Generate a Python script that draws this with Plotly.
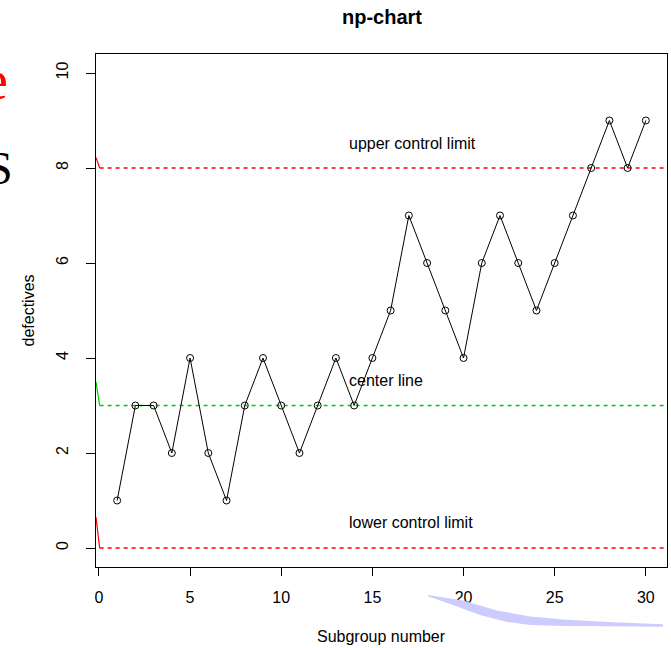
import plotly.graph_objects as go

# ---- data ----
subgroups = list(range(1, 31))
defectives = [1, 3, 3, 2, 4, 2, 1, 3, 4, 3, 2, 3, 4, 3, 4,
              5, 7, 6, 5, 4, 6, 7, 6, 5, 6, 7, 8, 9, 8, 9]
ucl = 8
center = 3
lcl = 0
limit_labels = ["upper control limit", "center line", "lower control limit"]
x_ticks = [0, 5, 10, 15, 20, 25, 30]
y_ticks = [0, 2, 4, 6, 8, 10]

XR = [-0.16, 31.16]
YR = [-0.4, 10.4]
W, H = 671, 648
ML, MR, MT, MB = 96, 4, 54, 81
PW, PH = W - ML - MR, H - MT - MB

def px2paper(px, py):
    return (px - ML) / PW, (H - MB - py) / PH

FONT = "Liberation Sans, Arial, Helvetica, sans-serif"
SERIF = "Liberation Serif, Times New Roman, serif"

fig = go.Figure()

# control limit lines (short solid lead-in + dashed horizontal)
for val, start, col in [(ucl, 8.22, "#FF0000"), (center, 3.5, "#00CD00"), (lcl, 0.65, "#FF0000")]:
    fig.add_trace(go.Scatter(x=[XR[0], 0.04], y=[start, val], mode="lines",
                             line=dict(color=col, width=1.2), showlegend=False, hoverinfo="skip"))
    fig.add_trace(go.Scatter(x=[0.04, XR[1]], y=[val, val], mode="lines",
                             line=dict(color=col, width=1.3, dash="4px,4px"),
                             showlegend=False, hoverinfo="skip"))

fig.add_trace(go.Scatter(x=subgroups, y=defectives, mode="lines+markers",
                         line=dict(color="black", width=1),
                         marker=dict(symbol="circle-open", size=7, color="black",
                                     line=dict(width=1, color="black")),
                         showlegend=False))

annotations = []
for lab, yv in zip(limit_labels, [8.52, 3.53, 0.53]):
    annotations.append(dict(x=13.6, y=yv, xref="x", yref="y", text=lab, showarrow=False,
                            xanchor="left", yanchor="middle",
                            font=dict(family=FONT, size=16, color="black")))

xp, yp = px2paper(0, 637)
annotations.append(dict(x=0.5, y=yp, xref="paper", yref="paper", text="Subgroup number",
                        showarrow=False, xanchor="center", yanchor="middle",
                        font=dict(family=FONT, size=16, color="black")))
xp, yp = px2paper(28, 310.5)
annotations.append(dict(x=xp, y=yp, xref="paper", yref="paper", text="defectives",
                        showarrow=False, xanchor="center", yanchor="middle", textangle=-90,
                        font=dict(family=FONT, size=16, color="black")))
xp, yp = px2paper(381.5, 17)
annotations.append(dict(x=xp, y=yp, xref="paper", yref="paper", text="<b>np-chart</b>",
                        showarrow=False, xanchor="center", yanchor="middle",
                        font=dict(family=FONT, size=20, color="black")))

# stray serif glyphs at the left edge (partly outside the page, as in the reference)
xp, yp = px2paper(10, 80)
annotations.append(dict(x=xp, y=yp, xref="paper", yref="paper", text="e", showarrow=False,
                        xanchor="right", yanchor="middle",
                        font=dict(family=SERIF, size=56, color="#FF0000")))
xp, yp = px2paper(15, 168)
annotations.append(dict(x=xp, y=yp, xref="paper", yref="paper", text="S", showarrow=False,
                        xanchor="right", yanchor="middle",
                        font=dict(family=SERIF, size=46, color="black")))

# decorative swoosh
top = [(428, 595), (463, 600.5), (497, 610.5), (530, 616.5), (563, 619.5), (613, 622.3), (663, 624.3)]
bot = [(663, 626.7), (613, 626.3), (563, 626), (530, 625), (507, 622), (480, 615), (453, 605), (428, 596.3)]
pts = [px2paper(a, b) for a, b in top + bot]
path = "M " + " L ".join(f"{a:.4f},{b:.4f}" for a, b in pts) + " Z"
shapes = [dict(type="path", xref="paper", yref="paper", path=path,
               fillcolor="rgb(204,204,255)", line=dict(width=0), layer="above")]

fig.update_layout(
    width=W, height=H,
    margin=dict(l=ML, r=MR, t=MT, b=MB),
    paper_bgcolor="white", plot_bgcolor="white",
    annotations=annotations, shapes=shapes,
    font=dict(family=FONT, size=16, color="black"),
    xaxis=dict(range=XR, tickvals=x_ticks, ticks="outside", ticklen=8, tickcolor="black",
               showline=True, linecolor="black", linewidth=1, mirror=True,
               showgrid=False, zeroline=False, tickfont=dict(family=FONT, size=16),
               ticklabelstandoff=8),
    yaxis=dict(range=YR, tickvals=y_ticks, ticks="outside", ticklen=9, tickcolor="black",
               showline=True, linecolor="black", linewidth=1, mirror=True,
               showgrid=False, zeroline=False, tickangle=-90,
               tickfont=dict(family=FONT, size=16), ticklabelstandoff=12),
)

fig.write_html("out.html")
